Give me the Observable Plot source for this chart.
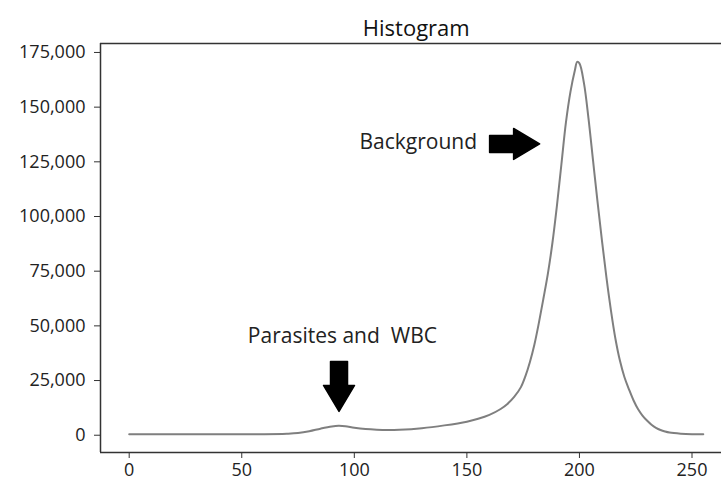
<!DOCTYPE html>
<html>
<head>
<meta charset="utf-8">
<script src="https://cdn.jsdelivr.net/npm/d3@7"></script>
<script src="https://cdn.jsdelivr.net/npm/@observablehq/plot@0.6"></script>
<style>
  html, body { margin: 0; padding: 0; background: #fff; }
  #chart { width: 721px; height: 485px; }
</style>
</head>
<body>
<div id="chart"></div>
<script>
// Histogram: pixel intensity (x) vs count (y)
const intensity = [0, 10, 20, 30, 40, 50, 60, 70, 75, 80, 85, 90, 93, 96, 100, 105, 110, 115, 120, 130, 140, 150, 155, 160, 165, 168, 171, 174, 176, 178, 180, 182, 184, 186, 188, 190, 192, 194, 196, 198, 199, 200, 202, 204, 206, 208, 210, 212, 214, 216, 218, 220, 222, 224, 226, 228, 230, 232, 234, 236, 238, 240, 245, 250, 255];
const counts = [500, 500, 500, 500, 500, 500, 500, 700, 1000, 1800, 3000, 4000, 4300, 4100, 3400, 2800, 2500, 2400, 2500, 3200, 4500, 6200, 7500, 9300, 12000, 14300, 17500, 22000, 27000, 33500, 41500, 51500, 62500, 74000, 88000, 105000, 124000, 143000, 157000, 167000, 170700, 170000, 161000, 145000, 126000, 107000, 89000, 72000, 57000, 44000, 34000, 26500, 21000, 16000, 12000, 9000, 6700, 4800, 3400, 2400, 1700, 1200, 700, 500, 500];

const xTicks = [0, 50, 100, 150, 200, 250];
const yTicks = [0, 25000, 50000, 75000, 100000, 125000, 150000, 175000];
const xDomain = [-12.75, 263.1];
const yDomain = [-7900, 179100];

const titleText = "Histogram";
const labelTexts = ["Background", "Parasites and\u00a0 WBC"];
const labelX = [102.3, 52.7];
const labelY = [134000, 45100];

const arrowX = [171.2, 93.2];
const arrowY = [133200, 22300];
const arrowAngle = [0, 90];

const data = intensity.map((x, i) => ({x, y: counts[i]}));
const labels = labelTexts.map((t, i) => ({t, x: labelX[i], y: labelY[i]}));
const arrows = arrowX.map((x, i) => ({x, y: arrowY[i], a: arrowAngle[i]}));

// block arrow symbol pointing right, centered on the origin
const blockArrow = {
  draw(context) {
    context.moveTo(-25, -8.5);
    context.lineTo(-1, -8.5);
    context.lineTo(-1, -15.5);
    context.lineTo(25, 0);
    context.lineTo(-1, 15.5);
    context.lineTo(-1, 8.5);
    context.lineTo(-25, 8.5);
    context.closePath();
  }
};

const chart = Plot.plot({
  width: 721,
  height: 485,
  marginLeft: 100,
  marginRight: 0,
  marginTop: 43,
  marginBottom: 33,
  style: {fontFamily: "'Open Sans', sans-serif", fontSize: "18px", color: "#222", background: "#fff"},
  x: {domain: xDomain},
  y: {domain: yDomain},
  marks: [
    Plot.axisY({ticks: yTicks, tickSize: 6, tickPadding: 9, tickFormat: d3.format(","), label: null, fontSize: 18, stroke: "#333"}),
    Plot.axisX({ticks: xTicks, tickSize: 6, tickPadding: 5, tickFormat: d3.format("d"), label: null, fontSize: 18, stroke: "#333"}),
    Plot.ruleX([xDomain[0]], {stroke: "#333", strokeWidth: 1.5}),
    Plot.ruleY(yDomain, {stroke: "#333", strokeWidth: 1.5}),
    Plot.line(data, {x: "x", y: "y", stroke: "#7f7f7f", strokeWidth: 2, curve: "catmull-rom"}),
    Plot.text(labels, {x: "x", y: "y", text: "t", textAnchor: "start", lineAnchor: "middle", fontSize: 21, fill: "#222"}),
    Plot.dot(arrows, {x: "x", y: "y", rotate: "a", symbol: blockArrow, fill: "#000", stroke: "#000", strokeWidth: 1.5, strokeLinejoin: "round"}),
    Plot.text([titleText], {x: () => (xDomain[0] + 267.75) / 2, frameAnchor: "top", text: d => d, lineAnchor: "bottom", dy: -8, fontSize: 22, fill: "#111"})
  ]
});
document.getElementById("chart").appendChild(chart);
</script>
</body>
</html>
